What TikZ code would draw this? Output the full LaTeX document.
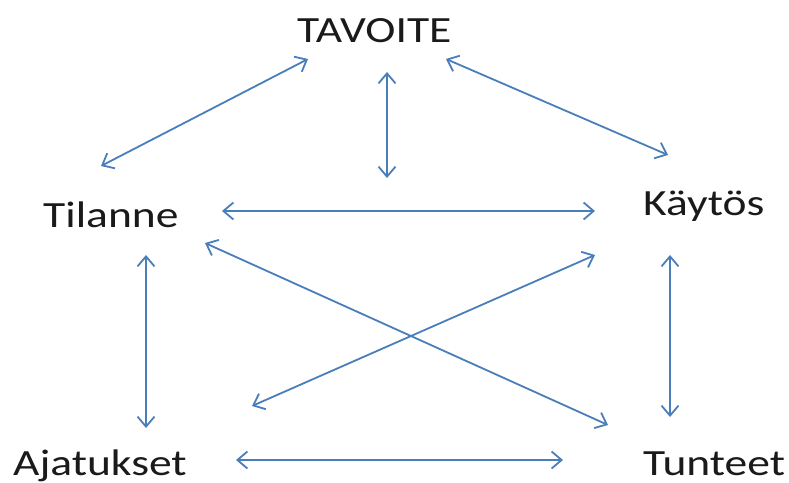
\documentclass[tikz,border=0pt]{standalone}
\usepackage{fontspec}
\setmainfont{Carlito}
\usetikzlibrary{arrows.meta}
\definecolor{linkblue}{HTML}{4A7EBB}
\definecolor{labelink}{HTML}{1A1A1A}
\begin{document}
\begin{tikzpicture}[x=1pt,y=-1pt,
  word/.style={inner sep=0pt, anchor=base west, text=labelink,
    font=\fontsize{37}{40}\selectfont},
  link/.style={draw=linkblue, line width=1.8pt,
    {Straight Barb[length=10pt,width=17pt]}-{Straight Barb[length=10pt,width=17pt]}}]
\useasboundingbox (0,0) rectangle (789,482);
\fill[white] (0,0) rectangle (789,482);

% labels
\node[word] (tav) at (297,42)  {\scalebox{1.23}[1]{TAVOITE}};
\node[word] (til) at (43,227)  {\scalebox{1.23}[1]{Tilanne}};
\node[word] (kay) at (643,215) {\scalebox{1.23}[1]{Käytös}};
\node[word] (aja) at (13,475)  {\scalebox{1.23}[1]{Ajatukset}};
\node[word] (tun) at (643,475) {\scalebox{1.23}[1]{Tunteet}};

% arrow end points around the labels
\coordinate (tav-l) at (308,59);   \coordinate (til-t) at (101,166);
\coordinate (tav-m) at (387,72);   \coordinate (mid-b) at (387,178);
\coordinate (tav-r) at (446,59);   \coordinate (kay-t) at (668,155);
\coordinate (til-r) at (222,211);  \coordinate (kay-l) at (595,211);
\coordinate (til-d) at (205,243);  \coordinate (tun-u) at (608,425);
\coordinate (kay-d) at (595,255);  \coordinate (aja-u) at (252,406);
\coordinate (til-b) at (146,255);  \coordinate (aja-t) at (146,428);
\coordinate (kay-b) at (670,255);  \coordinate (tun-t) at (670,417);
\coordinate (aja-r) at (236,460);  \coordinate (tun-l) at (563,460);

% two-way links
\draw[link] (til-t) -- (tav-l);
\draw[link] (tav-m) -- (mid-b);
\draw[link] (tav-r) -- (kay-t);
\draw[link] (til-r) -- (kay-l);
\draw[link] (til-d) -- (tun-u);
\draw[link] (kay-d) -- (aja-u);
\draw[link] (til-b) -- (aja-t);
\draw[link] (kay-b) -- (tun-t);
\draw[link] (aja-r) -- (tun-l);
\end{tikzpicture}
\end{document}
